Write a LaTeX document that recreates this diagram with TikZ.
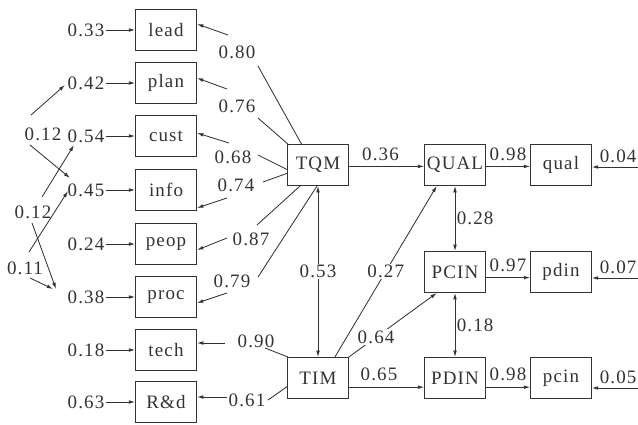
\documentclass[tikz,border=0pt]{standalone}
\usepackage{fontspec}
\setmainfont{Liberation Serif}[LetterSpace=6]
\usetikzlibrary{arrows.meta}

\begin{document}
\begin{tikzpicture}[x=0.025cm, y=-0.025cm, color=black!80, line width=0.6pt,
    every node/.style={font=\fontsize{13.5}{16}\selectfont},
    var/.style={draw, line width=0.8pt, minimum width=43pt, minimum height=29pt, inner sep=1pt},
    num/.style={inner sep=1pt},
    >={Latex[length=4.5pt, width=2.6pt]}]
  \useasboundingbox (0,0) rectangle (638,424);

  % items
  \node[var] (lead) at (166,30) {lead};
  \node[var] (plan) at (166,83) {plan};
  \node[var] (cust) at (166,136) {cust};
  \node[var] (info) at (166,190) {info};
  \node[var] (peop) at (166,244) {peop};
  \node[var] (proc) at (166,297) {proc};
  \node[var] (tech) at (166,350) {tech};
  \node[var] (rd) at (166,402) {R\&d};

  % latent and outcome boxes
  \node[var] (TQM) at (318,165) {TQM};
  \node[var] (TIM) at (318,378) {TIM};
  \node[var] (QUAL) at (455,165) {QUAL};
  \node[var] (PCIN) at (455,272) {PCIN};
  \node[var] (PDIN) at (455,378) {PDIN};
  \node[var] (qual) at (561,165) {qual};
  \node[var] (pdin) at (561,272) {pdin};
  \node[var] (pcin) at (561,378) {pcin};

  % error terms
  \node[num] (elead) at (86,30) {0.33};
  \node[num] (eplan) at (86,83) {0.42};
  \node[num] (ecust) at (86,136) {0.54};
  \node[num] (einfo) at (86,190) {0.45};
  \node[num] (epeop) at (86,244) {0.24};
  \node[num] (eproc) at (86,297) {0.38};
  \node[num] (etech) at (86,350) {0.18};
  \node[num] (erd) at (86,402) {0.63};
  \draw[->] (elead) -- (lead);
  \draw[->] (eplan) -- (plan);
  \draw[->] (ecust) -- (cust);
  \draw[->] (einfo) -- (info);
  \draw[->] (epeop) -- (peop);
  \draw[->] (eproc) -- (proc);
  \draw[->] (etech) -- (tech);
  \draw[->] (erd) -- (rd);

  % correlated errors
  \node[num] (c1) at (43,134) {0.12};
  \node[num] (c2) at (33,212) {0.12};
  \node[num] (c3) at (25,268) {0.11};
  \draw[->] ([shift={(-12,-19)}]c1.center) -- ([shift={(-21,2)}]eplan.center);
  \draw[->] ([shift={(-13,11)}]c1.center) -- ([shift={(-16,-12)}]einfo.center);
  \draw[->] ([shift={(9,-15)}]c2.center) -- ([shift={(-12,9)}]ecust.center);
  \draw[->] ([shift={(-1,11)}]c2.center) -- ([shift={(-30,-8)}]eproc.center);
  \draw[->] ([shift={(4,-16)}]c3.center) -- ([shift={(-18,1)}]einfo.center);
  \draw[->] ([shift={(5,10)}]c3.center) -- ([shift={(-33,-8)}]eproc.center);

  % loadings
  \node[num] (llead) at (237,52) {0.80};
  \node[num] (lplan) at (237,106) {0.76};
  \node[num] (lcust) at (233,157) {0.68};
  \node[num] (linfo) at (236,185) {0.74};
  \node[num] (lpeop) at (251,239) {0.87};
  \node[num] (lproc) at (232,281) {0.79};
  \node[num] (ltech) at (256,341) {0.90};
  \node[num] (lrd) at (247,400) {0.61};
  \draw ([shift={(21,14)}]llead.center) -- ([shift={(-16,-20)}]TQM.center);
  \draw[->] ([shift={(-9,-17)}]llead.center) -- ([shift={(31,-6)}]lead.center);
  \draw ([shift={(21,12)}]lplan.center) -- ([shift={(-29,-20)}]TQM.center);
  \draw[->] ([shift={(-10,-17)}]lplan.center) -- ([shift={(31,-5)}]plan.center);
  \draw ([shift={(25,-2)}]lcust.center) -- ([shift={(-30,5)}]TQM.center);
  \draw[->] ([shift={(-4,-14)}]lcust.center) -- ([shift={(31,-3)}]cust.center);
  \draw ([shift={(27,-3)}]linfo.center) -- ([shift={(-30,8)}]TQM.center);
  \draw[->] ([shift={(-9,13)}]linfo.center) -- ([shift={(31,18)}]info.center);
  \draw ([shift={(6,-14)}]lpeop.center) -- ([shift={(-18,21)}]TQM.center);
  \draw[->] ([shift={(-24,-1)}]lpeop.center) -- ([shift={(31,6)}]peop.center);
  \draw ([shift={(26,-4)}]lproc.center) -- ([shift={(-1,21)}]TQM.center);
  \draw[->] ([shift={(-5,12)}]lproc.center) -- ([shift={(31,6)}]proc.center);
  \draw ([shift={(9,7)}]ltech.center) -- ([shift={(-30,-21)}]TIM.center);
  \draw[->] ([shift={(-31,2)}]ltech.center) -- ([shift={(31,-7)}]tech.center);
  \draw ([shift={(21,0)}]lrd.center) -- ([shift={(-30,8)}]TIM.center);
  \draw[->] ([shift={(-20,-3)}]lrd.center) -- ([shift={(31,-5)}]rd.center);

  % structural paths
  \draw[<->] (TQM) -- (TIM) node[num, midway, fill=white] {0.53};
  \draw[->] ([yshift=-1pt]TQM.east) -- ([yshift=-1pt]QUAL.west) node[num, pos=0.42, above=3pt] {0.36};
  \draw[->] ([xshift=12pt]TIM.north) -- ([xshift=-13pt]QUAL.south) node[num, midway, fill=white] {0.27};
  \draw[->] (TIM.north east) -- ([xshift=-13pt]PCIN.south) node[num, pos=0.31, fill=white] {0.64};
  \draw[->] ([yshift=-6.5pt]TIM.east) -- ([yshift=-6.5pt]PDIN.west) node[num, pos=0.4, above=3pt] {0.65};
  \draw[<->] (QUAL) -- (PCIN) node[num, midway, right] {0.28};
  \draw[<->] (PCIN) -- (PDIN) node[num, midway, right] {0.18};

  % outcomes to indicators
  \draw[->] ([yshift=-1pt]QUAL.east) -- ([yshift=-1pt]qual.west) node[num, midway, above=3pt] {0.98};
  \draw[->] ([yshift=-4pt]PCIN.east) -- ([yshift=-4pt]pdin.west) node[num, midway, above=3pt] {0.97};
  \draw[->] ([yshift=-6.5pt]PDIN.east) -- ([yshift=-6.5pt]pcin.west) node[num, midway, above=3pt] {0.98};
  \coordinate (equal) at (638,167);
  \coordinate (epdin) at (638,278);
  \coordinate (epcin) at (638,388);
  \draw[->] (equal) -- (qual.east |- equal) node[num, pos=0.43, above=2pt] {0.04};
  \draw[->] (epdin) -- (pdin.east |- epdin) node[num, pos=0.43, above=2pt] {0.07};
  \draw[->] (epcin) -- (pcin.east |- epcin) node[num, pos=0.43, above=2pt] {0.05};
\end{tikzpicture}
\end{document}
